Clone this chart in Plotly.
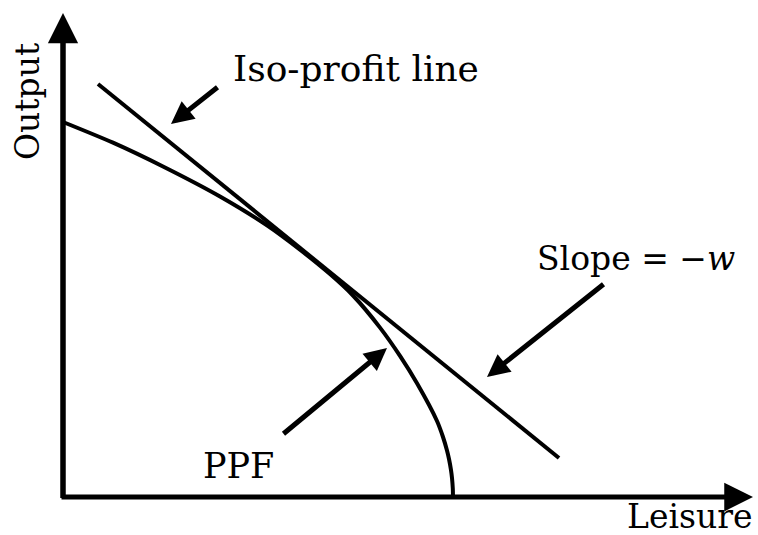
import plotly.graph_objects as go

# ---- data (units ~ pixels from the origin) ----
ppf_leisure = [0, 50, 100, 157, 204, 237, 267, 290, 317, 337, 354, 374, 380, 384, 386, 388, 389, 389.8, 390]
ppf_output = [375, 354.3, 330.5, 300.5, 271.6, 247.3, 222.9, 201.5, 169.4, 141.1, 113.7, 76,
              60, 46.5, 38, 26.9, 19, 8.5, 0]

iso_leisure = [35, 496]
iso_output = [413, 39]

axis_x_tip = [690, 0]
axis_y_tip = [0, 484]

label_texts = ["Iso-profit line", "Slope = \u2212<i>w</i>", "PPF"]
label_pos = [(168, 429), (472, 239), (175, 31)]
label_anchor = ["left", "left", "center"]
label_sizes = [36, 33, 35]

pointer_tails = [(156, 411), (542, 214), (219, 62)]
pointer_tips = [(108, 373), (424, 120), (324, 149)]

FONT = "DejaVu Serif"

fig = go.Figure()
fig.add_trace(go.Scatter(x=ppf_leisure, y=ppf_output, mode="lines",
                         line=dict(color="black", width=4, shape="spline", smoothing=0.7),
                         hoverinfo="skip", showlegend=False))
fig.add_trace(go.Scatter(x=iso_leisure, y=iso_output, mode="lines",
                         line=dict(color="black", width=4),
                         hoverinfo="skip", showlegend=False))


def arrow(tail, tip, width, size):
    return dict(x=tip[0], y=tip[1], ax=tail[0], ay=tail[1], xref="x", yref="y",
                axref="x", ayref="y", text="", showarrow=True, arrowhead=2,
                arrowsize=size, arrowwidth=width, arrowcolor="black",
                standoff=0, font=dict(size=1))


annotations = []
# axes
annotations.append(arrow((0, -2.5), tuple(axis_y_tip), 5.5, 1.1))
annotations.append(arrow((-3, 0), tuple(axis_x_tip), 5, 1.15))
# pointers
for t, p in zip(pointer_tails, pointer_tips):
    annotations.append(arrow(t, p, 5, 0.9))
# labels
for txt, (x, y), anc, fs in zip(label_texts, label_pos, label_anchor, label_sizes):
    annotations.append(dict(x=x, y=y, xref="x", yref="y", text=txt, showarrow=False,
                            xanchor=anc, yanchor="middle",
                            font=dict(family=FONT, size=fs, color="black")))
annotations.append(dict(x=-36, y=395, xref="x", yref="y", text="Output", showarrow=False,
                        textangle=-90, xanchor="center", yanchor="middle",
                        font=dict(family=FONT, size=33, color="black")))
annotations.append(dict(x=692, y=-19, xref="x", yref="y", text="Leisure", showarrow=False,
                        xanchor="right", yanchor="middle",
                        font=dict(family=FONT, size=33, color="black")))

fig.update_layout(
    width=758, height=535,
    margin=dict(l=0, r=0, t=0, b=0),
    paper_bgcolor="white", plot_bgcolor="white",
    xaxis=dict(range=[-63, 695], visible=False, fixedrange=True),
    yaxis=dict(range=[-38, 497], visible=False, fixedrange=True),
    annotations=annotations,
    showlegend=False,
)

# remove the default 8px body margin so the figure fills the window exactly
fig.write_html("out.html",
               config={"displayModeBar": False, "staticPlot": True},
               post_script="document.body.style.margin='0';"
                           "document.body.style.overflow='hidden';")
